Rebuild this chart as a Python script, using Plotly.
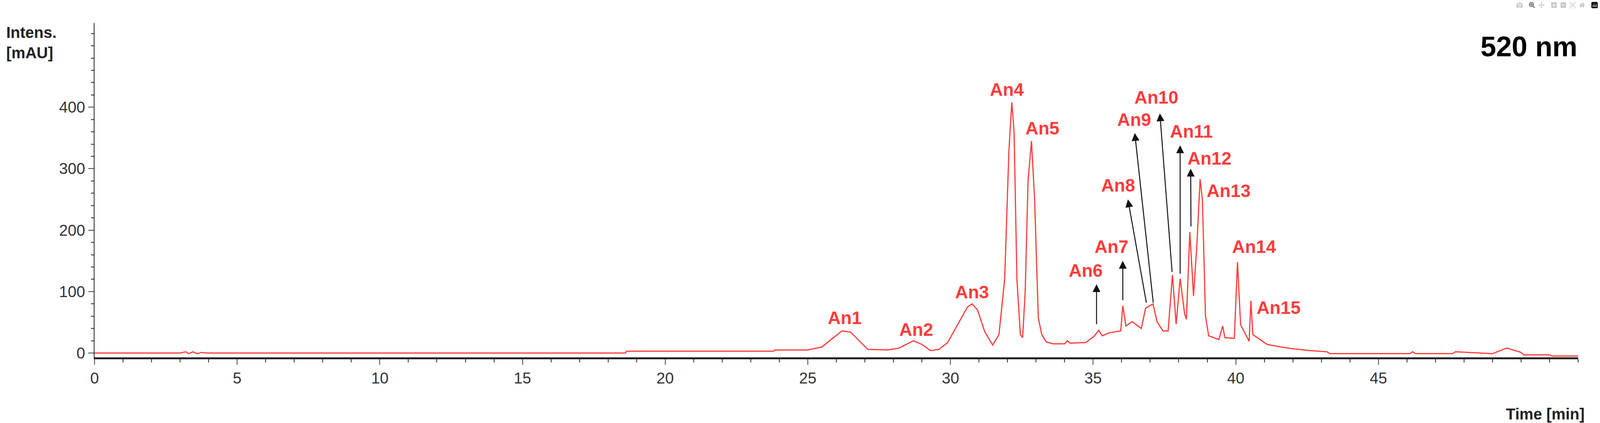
import plotly.graph_objects as go

time_min = [0, 3.0, 3.2, 3.3, 3.45, 3.6, 3.75, 3.9, 18.6, 18.65, 23.8, 23.85, 25.0, 25.5, 25.9, 26.2, 26.5, 26.8, 27.1, 27.8, 28.2, 28.7, 29.0, 29.3, 29.6, 29.9, 30.3, 30.6, 30.76, 30.95, 31.2, 31.48, 31.7, 31.9, 32.05, 32.15, 32.23, 32.33, 32.45, 32.53, 32.62, 32.72, 32.84, 32.95, 33.08, 33.2, 33.36, 33.6, 34.0, 34.1, 34.2, 34.74, 35.03, 35.2, 35.32, 35.57, 35.97, 36.04, 36.15, 36.37, 36.69, 36.84, 37.1, 37.24, 37.45, 37.63, 37.78, 37.91, 38.05, 38.21, 38.27, 38.39, 38.52, 38.64, 38.75, 38.83, 38.94, 39.05, 39.41, 39.54, 39.62, 39.95, 40.06, 40.17, 40.38, 40.47, 40.53, 40.6, 41.1, 41.55, 42.0, 42.6, 43.2, 43.3, 46.1, 46.2, 46.3, 47.6, 47.7, 49.0, 49.5, 50.0, 50.1, 51.0, 51.1, 52.0]
intensity = [0, 0, 2, -1, 2, -1, 1, 0, 0, 3, 3, 5, 5, 10, 25, 36, 34, 20, 6, 5, 8, 20, 14, 4, 6, 17, 50, 75, 80, 70, 35, 13, 30, 120, 330, 408, 360, 120, 30, 25, 100, 280, 345, 250, 57, 30, 18, 15, 15, 20, 16, 17, 27, 37, 28, 33, 36, 77, 44, 51, 40, 73, 80, 51, 36, 36, 127, 47, 121, 63, 55, 197, 93, 178, 283, 250, 60, 28, 22, 44, 25, 24, 148, 46, 27, 19, 85, 30, 14, 10, 7, 4, 2, -1, -1, 2, -1, -1, 2, -1, 8, 1, -3, -3, -5, -5]

labels = ["An1", "An2", "An3", "An4", "An5", "An6", "An7", "An8", "An9", "An10", "An11", "An12", "An13", "An14", "An15"]
label_x = [26.3, 28.8, 30.76, 31.97, 33.22, 34.74, 35.64, 35.88, 36.44, 37.21, 38.45, 39.08, 39.75, 40.64, 41.5]
label_y = [57, 38, 99, 429, 366, 134, 173, 273, 380, 416, 361, 317, 264, 173, 74]

arrow_tail_x = [35.12, 36.04, 36.87, 37.11, 37.77, 38.05, 38.43]
arrow_tail_y = [46, 85, 81, 81, 131, 128, 205]
arrow_head_x = [35.12, 36.04, 36.22, 36.46, 37.34, 38.05, 38.42]
arrow_head_y = [112, 150, 250, 358, 390, 338, 300]

x_ticks = [0, 5, 10, 15, 20, 25, 30, 35, 40, 45]
y_ticks = [0, 100, 200, 300, 400]

RED = "#ff3b3b"
fig = go.Figure()
fig.add_trace(go.Scatter(x=time_min, y=intensity, mode="lines",
                         line=dict(color=RED, width=3), hoverinfo="skip"))

ann = []
for t, x, y in zip(labels, label_x, label_y):
    ann.append(dict(x=x, y=y, text="<b>%s</b>" % t, showarrow=False,
                    font=dict(family="Liberation Sans", size=46, color=RED)))
for hx, hy, tx, ty in zip(arrow_head_x, arrow_head_y, arrow_tail_x, arrow_tail_y):
    ann.append(dict(x=hx, y=hy, ax=tx, ay=ty, xref="x", yref="y", axref="x", ayref="y",
                    text="", showarrow=True, arrowhead=2, arrowsize=1.6, arrowwidth=2.5,
                    arrowcolor="#111111"))
ann.append(dict(xref="paper", yref="paper", x=1.0, y=0.93, xanchor="right", yanchor="middle",
                text="<b>520 nm</b>", showarrow=False,
                font=dict(family="Liberation Sans", size=72, color="black")))
ann.append(dict(xref="paper", yref="paper", x=-0.06, y=1.0, xanchor="left", yanchor="top",
                text="<b>Intens.<br>[mAU]</b>", showarrow=False, align="left",
                font=dict(family="Liberation Sans", size=40, color="#222")))
ann.append(dict(xref="paper", yref="paper", x=1.005, y=-0.17, xanchor="right", yanchor="middle",
                text="<b>Time [min]</b>", showarrow=False,
                font=dict(family="Liberation Sans", size=40, color="#222")))

fig.update_layout(
    autosize=True, paper_bgcolor="white", plot_bgcolor="white",
    margin=dict(l=242, r=56, t=59, b=168), showlegend=False, annotations=ann,
    xaxis=dict(range=[0, 52.0], tickvals=x_ticks, ticks="outside", ticklen=14, tickwidth=2,
               showgrid=False, zeroline=False, showline=True, linecolor="#222", linewidth=5,
               tickfont=dict(family="Liberation Sans", size=40, color="#333"),
               minor=dict(dtick=1, ticks="outside", ticklen=8, tickwidth=2, tickcolor="#222")),
    yaxis=dict(range=[-7, 537], tickvals=y_ticks, ticks="outside", ticklen=14, tickwidth=2,
               showgrid=False, zeroline=False, showline=True, linecolor="#222", linewidth=2,
               tickfont=dict(family="Liberation Sans", size=40, color="#333"),
               minor=dict(dtick=20, ticks="outside", ticklen=7, tickwidth=2, tickcolor="#222")),
)
html = fig.to_html(include_plotlyjs=True, full_html=True, default_width="100%",
                   default_height="100vh", config={"responsive": True})
html = html.replace("<head>", "<head><style>html,body{margin:0;padding:0;overflow:hidden;}</style>", 1)
with open("out.html", "w", encoding="utf-8") as f:
    f.write(html)
